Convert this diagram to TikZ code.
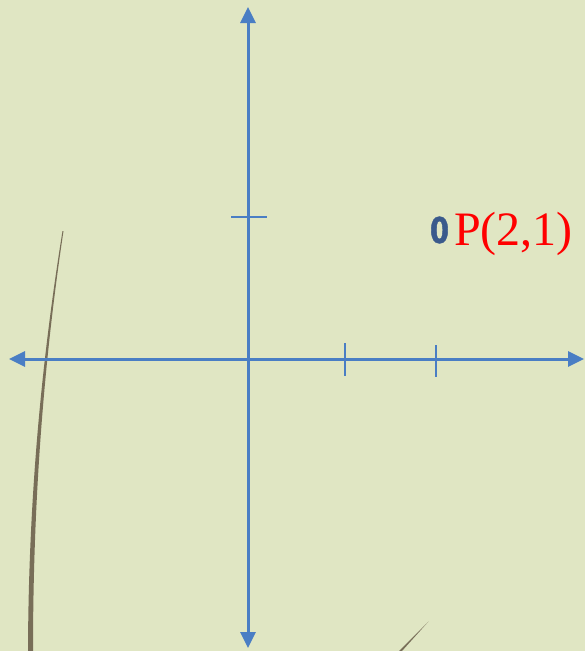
\documentclass[tikz,border=0pt]{standalone}
\usepackage{fontspec}
\setmainfont{Liberation Serif}
\newfontfamily\zerofont[FakeBold=1.2]{Fira Sans Bold}
\usetikzlibrary{arrows.meta}
\definecolor{bgc}{RGB}{224,230,195}
\definecolor{axisblue}{RGB}{74,126,196}
\definecolor{ptblue}{RGB}{58,90,140}
\definecolor{stem}{RGB}{120,110,88}
\tikzset{
  axis/.style={draw=axisblue, line width=3pt, {Triangle[length=16pt,width=15pt]}-{Triangle[length=16pt,width=15pt]}},
  tick/.style={draw=axisblue, line width=2.5pt},
}
\begin{document}
\begin{tikzpicture}[x=1pt,y=-1pt]
\fill[bgc] (0,0) rectangle (585,651);
\useasboundingbox (0,0) rectangle (585,651);
% grass stems
\fill[stem] (62.5,231) .. controls (45,340) and (28.5,480) .. (28,651) -- (33,651) .. controls (33,480) and (47,340) .. (63.5,231) -- cycle;
\fill[stem] (399,651) -- (428.5,621.5) -- (402,651) -- cycle;
% axes
\coordinate (xl) at (9,359);
\coordinate (xr) at (584,359);
\coordinate (yt) at (248,7);
\coordinate (yb) at (248,648);
\draw[axis] (xl) -- (xr);
\draw[axis] (yb) -- (yt);
% ticks
\coordinate (t1a) at (345,343); \coordinate (t1b) at (345,376);
\coordinate (t2a) at (436,345); \coordinate (t2b) at (436,377);
\coordinate (t3a) at (231,217); \coordinate (t3b) at (267,217);
\draw[tick] (t1a) -- (t1b);
\draw[tick] (t2a) -- (t2b);
\draw[tick] (t3a) -- (t3b);
% point
\node[text=ptblue, font=\zerofont\fontsize{38}{38}\selectfont, inner sep=0pt, xscale=0.85] (pt) at (439.5,230) {0};
\node[text=red, font=\fontsize{48}{48}\selectfont, inner sep=0pt, anchor=west] (lab) at (454,234) {P(2,1)};
\end{tikzpicture}
\end{document}
